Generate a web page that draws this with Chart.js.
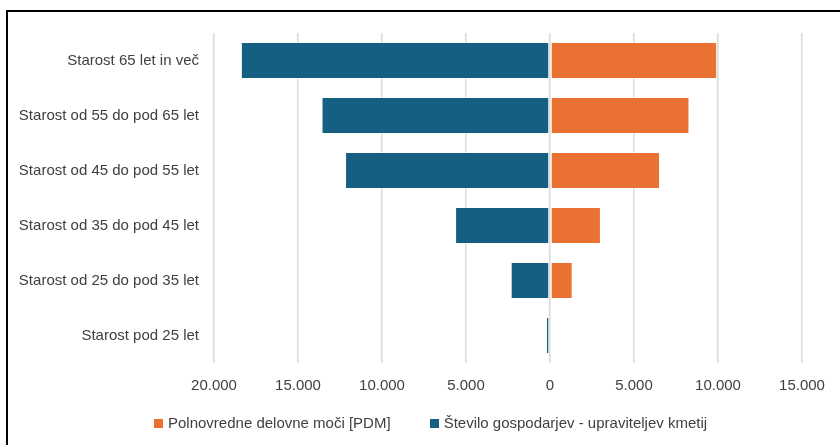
<!DOCTYPE html>
<html>
<head>
<meta charset="utf-8">
<script src="https://cdn.jsdelivr.net/npm/chart.js@4/dist/chart.umd.min.js"></script>
<style>
  html, body { margin: 0; padding: 0; background: #fff; overflow: hidden; }
  .wrap { position: relative; width: 840px; height: 445px; font-family: 'Liberation Sans', Arial, sans-serif; }
  .frame {
    position: absolute; left: 6px; top: 10px; width: 900px; height: 500px;
    border-left: 2px solid #000; border-top: 2px solid #000; pointer-events: none;
  }
  .legend {
    position: absolute; left: 154px; top: 414px; display: flex; gap: 39px;
    font-size: 15px; color: #404040; line-height: 18px; white-space: nowrap;
  }
  .legend span { display: flex; align-items: center; }
  .legend i { display: inline-block; width: 9px; height: 9px; margin-right: 5px; }
</style>
</head>
<body>
<div class="wrap">
  <canvas id="chart" width="840" height="445"></canvas>
  <div class="legend"></div>
  <div class="frame"></div>
</div>
<script>
const ageGroups = [
  "Starost 65 let in več",
  "Starost od 55 do pod 65 let",
  "Starost od 45 do pod 55 let",
  "Starost od 35 do pod 45 let",
  "Starost od 25 do pod 35 let",
  "Starost pod 25 let"
]
const pdm = [9950, 8300, 6550, 3030, 1350, 0]
const farmHolders = [18400, 13600, 12200, 5650, 2340, 240]
const xTicks = [-20000, -15000, -10000, -5000, 0, 5000, 10000, 15000]

const textColor = "#404040"
const fontFamily = "'Liberation Sans', Arial, sans-serif"
const legendBox = document.querySelector(".legend")

// 20000 -> "20.000", left side shown without sign
const formatTick = (v) => Math.abs(v).toString().replace(/\B(?=(\d{3})+(?!\d))/g, ".")

const chart = new Chart(document.getElementById("chart"), {
  type: "bar",
  data: {
    labels: ageGroups,
    datasets: [{
      label: "Polnovredne delovne moči [PDM]",
      data: pdm,
      backgroundColor: "#E97132",
      borderColor: "rgba(255,255,255,0.55)",
      borderWidth: 1,
      borderSkipped: false
    }, {
      label: "Število gospodarjev - upraviteljev kmetij",
      data: farmHolders.map(v => -v),
      backgroundColor: "#156082",
      borderColor: "rgba(255,255,255,0.55)",
      borderWidth: 1,
      borderSkipped: false
    }]
  },
  options: {
    indexAxis: "y",
    responsive: false,
    animation: false,
    layout: { padding: { left: 0, right: 38, top: 33, bottom: 0 } },
    datasets: { bar: { barPercentage: 0.67, categoryPercentage: 1 } },
    scales: {
      x: {
        stacked: true,
        min: xTicks[0],
        max: xTicks[xTicks.length - 1],
        afterBuildTicks: (scale) => { scale.ticks = xTicks.map(v => ({ value: v })) },
        afterFit: (scale) => { scale.height = 82 },
        grid: { color: "#d9d9d9", lineWidth: 1.5, drawTicks: false },
        border: { display: false },
        ticks: {
          padding: 14,
          color: textColor,
          font: { family: fontFamily, size: 15 },
          callback: (v) => formatTick(v)
        }
      },
      y: {
        stacked: true,
        afterFit: (scale) => { scale.width = 214 },
        grid: { display: false, drawTicks: false },
        border: { display: false },
        ticks: {
          padding: 15,
          color: textColor,
          font: { family: fontFamily, size: 15 }
        }
      }
    },
    plugins: {
      tooltip: { enabled: false },
      legend: { display: false }
    }
  }
})

// legend built from the datasets
chart.data.datasets.forEach(ds => {
  const item = document.createElement("span")
  const box = document.createElement("i")
  box.style.background = ds.backgroundColor
  item.appendChild(box)
  item.appendChild(document.createTextNode(ds.label))
  legendBox.appendChild(item)
})
</script>
</body>
</html>
